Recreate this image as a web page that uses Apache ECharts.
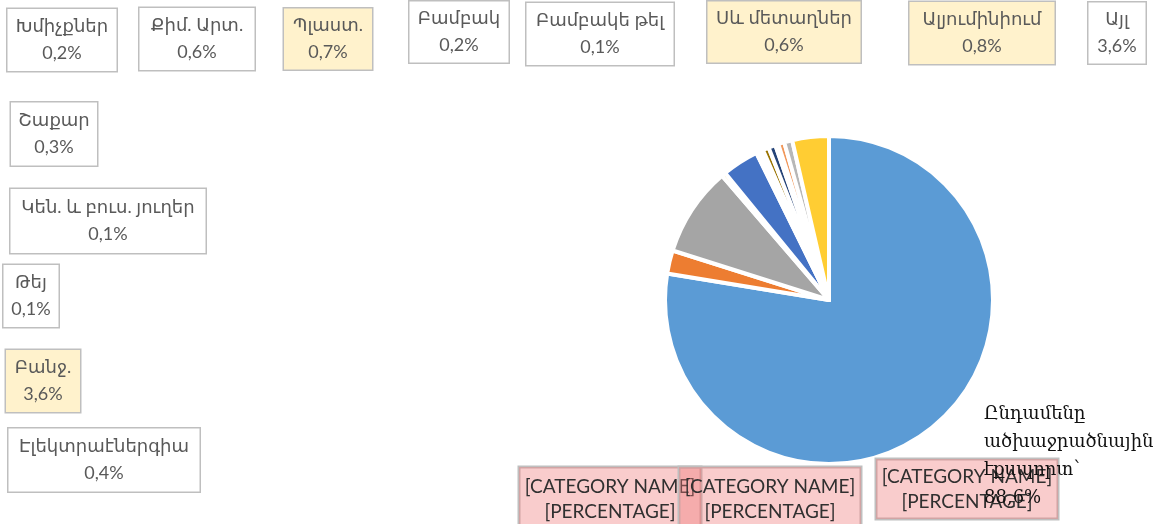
<!DOCTYPE html>
<html>
<head>
<meta charset="utf-8">
<script src="https://cdn.jsdelivr.net/npm/echarts@6/dist/echarts.min.js"></script>
<style>
html, body { margin: 0; padding: 0; background: #fff; }
#chart { width: 1170px; height: 524px; }
</style>
</head>
<body>
<div id="chart"></div>
<script>
// slices, clockwise from 12 o'clock (first three = hydrocarbon export, unnamed in source)
const names = ['[CATEGORY NAME]', '[CATEGORY NAME]', '[CATEGORY NAME]', 'Էլեկտրաէներգիա', 'Բանջ.', 'Թեյ',
    'Կեն. և բուս. յուղեր', 'Շաքար', 'Խմիչքներ', 'Քիմ. Արտ.', 'Պլաստ.', 'Բամբակ', 'Բամբակե թել',
    'Սև մետաղներ', 'Ալյումինիում', 'Այլ']
const values = [77.5, 2.3, 8.8, 0.4, 3.6, 0.1, 0.1, 0.3, 0.2, 0.6, 0.7, 0.2, 0.1, 0.6, 0.8, 3.6]
const totalLines = ['Ընդամենը', 'ածխաջրածնային', 'էքսպորտ՝']
const placeholderCount = 3

// office palette
const colors = ['#5B9BD5', '#ED7D31', '#A5A5A5', '#FFC000', '#4472C4', '#70AD47', '#255E91', '#9E480E',
    '#636363', '#997300', '#264478', '#43682B', '#7CAFDD', '#F1975A', '#B7B7B7', '#FFCD33']

// label boxes: centre x, centre y, width, height
const boxes = [
    [967, 489, 184, 60], [610, 499, 184, 64], [770, 499, 184, 64],
    [104, 460, 193, 63], [43, 381, 76, 62], [31, 296, 57, 62], [108, 221, 197, 64],
    [54, 134, 88, 63], [62, 40, 111, 62], [197, 39, 117, 62], [328, 39, 90, 61],
    [459, 32, 101, 61], [600, 34, 149, 62], [784, 32, 155, 61], [982, 33, 147, 62],
    [1117, 33, 59, 61]
]
const yellowBoxes = [4, 10, 13, 14]

const pct = v => v.toFixed(1).replace('.', ',') + '%'

const chart = echarts.init(document.getElementById('chart'))

const data = names.map((name, i) => {
    const b = boxes[i]
    const ph = i < placeholderCount
    const lh = ph ? 25 : 27
    return {
        name: name,
        value: values[i],
        itemStyle: { color: colors[i] },
        label: {
            width: b[2] - 2,
            padding: [(b[3] - 2 * lh) / 2, 0],
            lineHeight: lh,
            fontSize: ph ? 19 : 18,
            color: ph ? '#303030' : '#595959',
            backgroundColor: ph ? 'rgba(240,120,120,0.38)' : (yellowBoxes.includes(i) ? '#FFF2CC' : '#fff'),
            borderColor: '#BFBFBF',
            borderWidth: 1.5
        }
    }
})

let hydro = 0
for (let i = 0; i < placeholderCount; i++) hydro += values[i]

chart.setOption({
    animation: false,
    title: {
        text: totalLines.join('\n') + '\n' + pct(hydro),
        left: 984,
        top: 400,
        padding: 0,
        textStyle: {
            fontFamily: 'DejaVu Serif',
            fontSize: 18,
            fontWeight: 'normal',
            color: '#111',
            lineHeight: 28
        }
    },
    series: [{
        type: 'pie',
        center: [829, 300],
        radius: 164,
        startAngle: 90,
        clockwise: true,
        avoidLabelOverlap: false,
        selectedMode: false,
        emphasis: { disabled: true },
        itemStyle: { borderColor: '#fff', borderWidth: 4 },
        label: {
            show: true,
            position: 'outside',
            fontFamily: 'Lato, "DejaVu Sans", sans-serif',
            align: 'center',
            verticalAlign: 'middle',
            formatter: p => p.dataIndex < placeholderCount
                ? '[CATEGORY NAME]\n[PERCENTAGE]'
                : p.name + '\n' + pct(p.value)
        },
        labelLine: { show: false },
        labelLayout: p => ({
            x: boxes[p.dataIndex][0],
            y: boxes[p.dataIndex][1],
            align: 'center',
            verticalAlign: 'middle'
        }),
        data: data
    }]
})
</script>
</body>
</html>
